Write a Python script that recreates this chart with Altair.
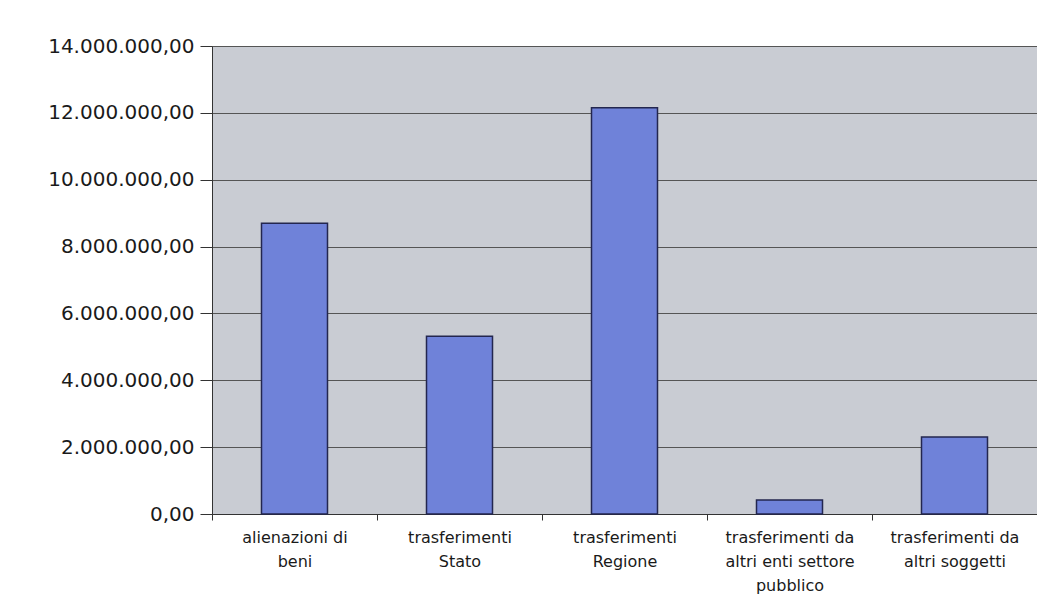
import altair as alt
import pandas as pd

categories = [
    "alienazioni di|beni",
    "trasferimenti|Stato",
    "trasferimenti|Regione",
    "trasferimenti da|altri enti settore|pubblico",
    "trasferimenti da|altri soggetti",
]
values = [8700000, 5320000, 12150000, 420000, 2300000]
y_ticks = [0, 2000000, 4000000, 6000000, 8000000, 10000000, 12000000, 14000000]

df = pd.DataFrame({"categoria": categories, "valore": values})

chart = (
    alt.Chart(df)
    .mark_bar(
        width=alt.RelativeBandSize(0.4),
        color="#6f82d9",
        stroke="#23264f",
        strokeWidth=1.5,
    )
    .encode(
        x=alt.X(
            "categoria:N",
            sort=categories,
            scale=alt.Scale(paddingInner=0, paddingOuter=0),
            axis=alt.Axis(
                title=None,
                labelAngle=0,
                labelExpr="split(datum.label, '|')",
                labelFont="DejaVu Sans",
                labelFontSize=16,
                labelColor="#1a1a1a",
                labelLineHeight=24,
                labelPadding=9,
                labelBaseline="top",
                tickBand="extent",
                tickColor="#333333",
                tickSize=6,
                domainColor="#333333",
                grid=False,
            ),
        ),
        y=alt.Y(
            "valore:Q",
            scale=alt.Scale(domain=[0, 14000000], nice=False),
            axis=alt.Axis(
                title=None,
                values=y_ticks,
                format=",.2f",
                labelFont="DejaVu Sans",
                labelFontSize=20,
                labelColor="#1a1a1a",
                labelPadding=6,
                tickColor="#333333",
                tickSize=12,
                domainColor="#333333",
                gridColor="#555555",
                gridWidth=1,
            ),
        ),
    )
    .properties(
        width=825,
        height=468,
        autosize=alt.AutoSizeParams(type="none"),
        padding={"left": 204, "top": 38, "right": 0, "bottom": 90},
    )
    .configure(
        locale=alt.Locale(
            number=alt.NumberLocale(
                decimal=",", thousands=".", grouping=[3], currency=["€", ""]
            )
        ),
        background="white",
    )
    .configure_view(fill="#c9ccd3", stroke="#888888")
)

chart.save("out.html", embed_options={"renderer": "svg", "actions": False})
